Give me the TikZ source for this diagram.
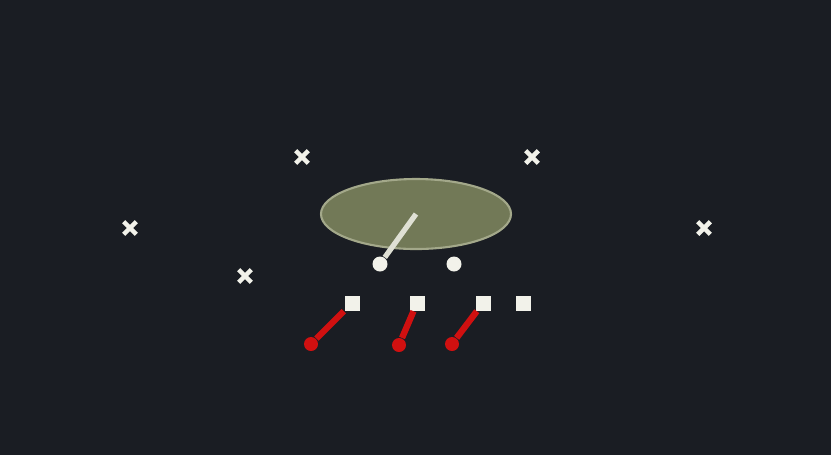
\documentclass[tikz,border=0pt]{standalone}
\usetikzlibrary{shapes.geometric,shapes.misc}
\definecolor{field}{HTML}{1A1D23}
\definecolor{zone}{HTML}{727957}
\definecolor{zoneline}{HTML}{A3A88A}
\definecolor{chalk}{HTML}{F2F2EA}
\definecolor{route}{HTML}{D01010}
\tikzset{
  defender/.style={cross out,draw=chalk,line width=1.3pt,minimum size=0.08cm,inner sep=0pt},
  back/.style={circle,fill=chalk,minimum size=0.15cm,inner sep=0pt},
  lineman/.style={rectangle,fill=chalk,minimum size=0.15cm,inner sep=0pt},
  target/.style={circle,fill=route,minimum size=0.14cm,inner sep=0pt},
  block/.style={draw=route,line width=1.8pt},
  throw/.style={draw=chalk!85!zone,line width=1.5pt}
}
\begin{document}
\begin{tikzpicture}
        \fill[field] (0,0) rectangle (8.31,-4.55);
        \useasboundingbox (0,0) rectangle (8.31,-4.55);
        \node[ellipse,fill=zone,draw=zoneline,line width=0.6pt,minimum width=1.9cm,minimum height=0.7cm] (pocket) at (4.16,-2.14) {};
        \node[defender] (d1) at (3.02,-1.57) {};
        \node[defender] (d2) at (5.32,-1.57) {};
        \node[defender] (d3) at (1.30,-2.28) {};
        \node[defender] (d4) at (7.04,-2.28) {};
        \node[defender] (d5) at (2.45,-2.76) {};
        \node[back] (qb) at (3.80,-2.64) {};
        \node[back] (rb) at (4.54,-2.64) {};
        \node[lineman] (l1) at (3.52,-3.03) {};
        \node[lineman] (l2) at (4.17,-3.03) {};
        \node[lineman] (l3) at (4.83,-3.03) {};
        \node[lineman] (l4) at (5.23,-3.03) {};
        \node[target] (t1) at (3.11,-3.44) {};
        \node[target] (t2) at (3.99,-3.45) {};
        \node[target] (t3) at (4.52,-3.44) {};
        \draw[throw] (pocket.center) -- (qb);
        \draw[block] (l1) -- (t1);
        \draw[block] (l2) -- (t2);
        \draw[block] (l3) -- (t3);
      \end{tikzpicture}
\end{document}
